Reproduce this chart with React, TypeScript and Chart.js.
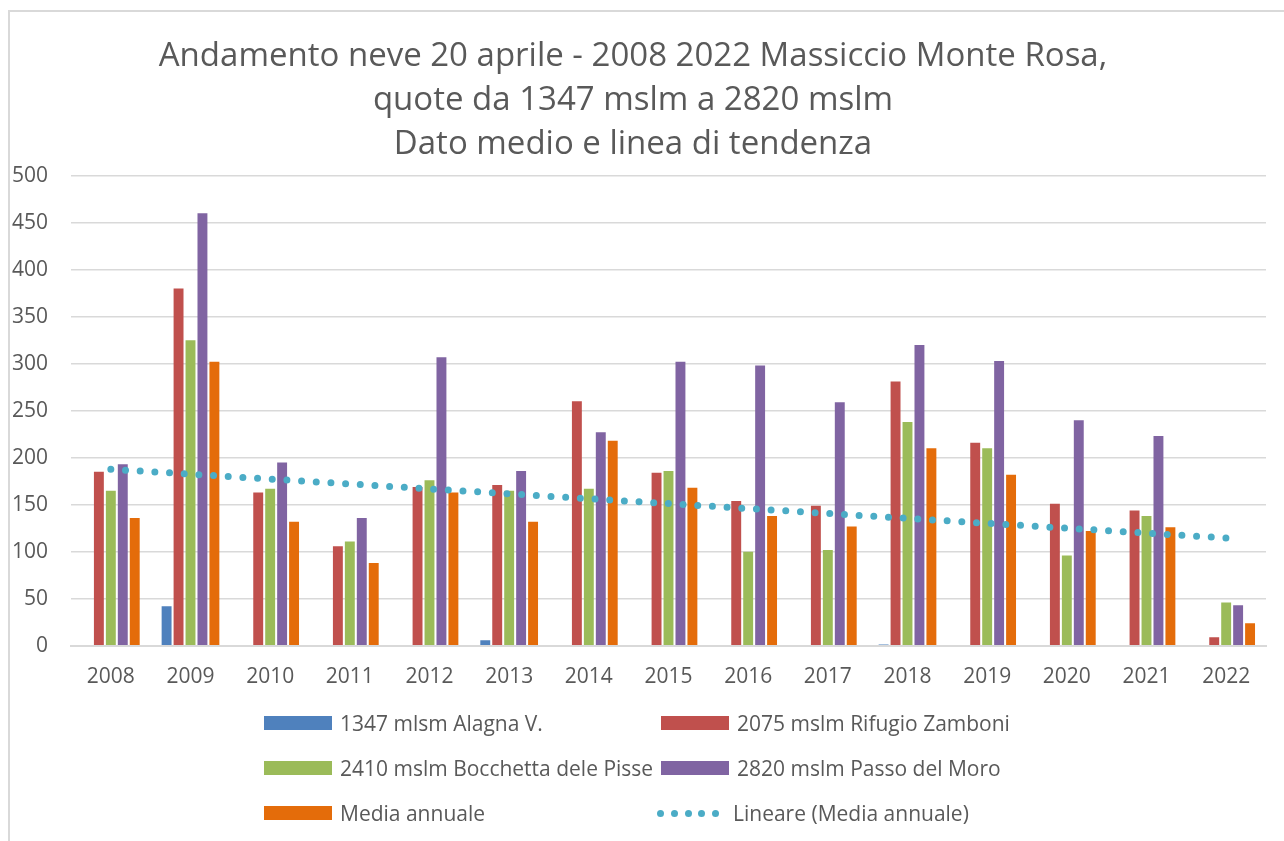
import React, { useEffect, useRef } from "react";
import { Chart, registerables } from "chart.js";

Chart.register(...registerables);

const years = ["2008","2009","2010","2011","2012","2013","2014","2015","2016","2017","2018","2019","2020","2021","2022"];
const alagna = [0, 42, 0, 0, 0, 6, 0, 0, 0, 0, 1.5, 0, 0, 0, 0];
const zamboni = [185, 380, 163, 106, 169, 171, 260, 184, 154, 149, 281, 216, 151, 144, 9];
const pisse = [165, 325, 167, 111, 176, 165, 167, 186, 100, 102, 238, 210, 96, 138, 46];
const moro = [193, 460, 195, 136, 307, 186, 227, 302, 298, 259, 320, 303, 240, 223, 43];
const media = [136, 302, 132, 88, 163, 132, 218, 168, 138, 127, 210, 182, 122, 126, 24];
const titleLines = [
  "Andamento neve 20 aprile - 2008 2022 Massiccio Monte Rosa,",
  "quote da 1347 mslm a 2820 mslm",
  "Dato medio e linea di tendenza",
];
const seriesNames = [
  "1347 mlsm Alagna V.",
  "2075 mslm Rifugio Zamboni",
  "2410 mslm Bocchetta dele Pisse",
  "2820 mslm Passo del Moro",
  "Media annuale",
  "Lineare (Media annuale)",
];
const colors = ["#4F81BD", "#C0504D", "#9BBB59", "#8064A2", "#E46C0A", "#4BACC6"];

// Excel-style linear trendline (least squares) of the "Media annuale" series
function linearTrend(values: number[]): number[] {
  const n = values.length;
  const xs = values.map((_, i) => i + 1);
  const mx = xs.reduce((a, b) => a + b, 0) / n;
  const my = values.reduce((a, b) => a + b, 0) / n;
  let sxy = 0, sxx = 0;
  for (let i = 0; i < n; i++) {
    sxy += (xs[i] - mx) * (values[i] - my);
    sxx += (xs[i] - mx) * (xs[i] - mx);
  }
  const slope = sxy / sxx;
  return xs.map((x) => my + slope * (x - mx));
}

const FONT = "'Open Sans', 'Liberation Sans', sans-serif";
const TEXT = "#595959";

export default function App() {
  const ref = useRef<HTMLCanvasElement | null>(null);

  useEffect(() => {
    if (!ref.current) return;
    const seriesData = [alagna, zamboni, pisse, moro, media];
    const barSets = seriesData.map((d, i) => ({
      type: "bar" as const,
      label: seriesNames[i],
      data: d,
      backgroundColor: colors[i],
      borderWidth: 0,
      categoryPercentage: 0.75,
      barPercentage: 0.83,
      order: 2,
    }));
    const chart = new Chart(ref.current, {
      type: "bar",
      data: {
        labels: years,
        datasets: [
          ...barSets,
          {
            type: "line" as const,
            label: seriesNames[5],
            data: linearTrend(media),
            borderColor: colors[5],
            borderWidth: 7,
            borderDash: [0, 14.7],
            borderCapStyle: "round",
            pointRadius: 0,
            fill: false,
            tension: 0,
            order: 0,
          } as any,
        ],
      },
      options: {
        responsive: false,
        animation: false,
        layout: { padding: { left: 0, right: 18, top: 0, bottom: 132 } },
        plugins: {
          legend: { display: false },
          tooltip: { enabled: false },
          title: {
            display: true,
            text: titleLines,
            color: TEXT,
            font: { family: FONT, size: 33, weight: "normal" as any, lineHeight: 1.33 },
            padding: { top: 35, bottom: 9 },
          },
        },
        scales: {
          x: {
            grid: { display: false, drawTicks: false },
            border: { display: true, color: "#D9D9D9", width: 2 },
            ticks: { color: TEXT, font: { family: FONT, size: 21 }, padding: 19, maxRotation: 0 },
          },
          y: {
            min: 0,
            max: 500,
            grid: { color: "#D9D9D9", lineWidth: 1.5, drawTicks: false },
            border: { display: false },
            ticks: { stepSize: 50, color: TEXT, font: { family: FONT, size: 21 }, padding: 23 },
            afterFit: (s: any) => { s.width = 71; },
          },
        },
      },
    });
    return () => chart.destroy();
  }, []);

  const legendRows = [[0, 1], [2, 3], [4, 5]];
  const colX = [264, 661];
  const rowY = [723, 768, 813];

  return (
    <div style={{ position: "fixed", left: 0, top: 0, width: 1284, height: 841, background: "#fff", overflow: "hidden" }}>
      <div style={{ position: "absolute", left: 8, top: 10, width: 1290, height: 900, borderTop: "2px solid #D9D9D9", borderLeft: "2px solid #D9D9D9" }} />
      <canvas ref={ref} width={1284} height={841} style={{ position: "absolute", left: 0, top: 0 }} />
      {legendRows.map((row, r) =>
        row.map((si, c) => (
          <div key={si} style={{ position: "absolute", left: colX[c], top: rowY[r] - 15, height: 30, display: "flex", alignItems: "center", fontFamily: FONT, fontSize: 21, color: TEXT, whiteSpace: "nowrap" }}>
            {si === 5 ? (
              <div style={{ width: 62, display: "flex", justifyContent: "space-between", marginLeft: -4, marginRight: 6 }}>
                {[0, 1, 2, 3, 4].map((k) => (
                  <span key={k} style={{ width: 7, height: 7, borderRadius: 4, background: colors[5], display: "inline-block" }} />
                ))}
              </div>
            ) : (
              <div style={{ width: 68, height: 14, background: colors[si] }} />
            )}
            <span style={{ marginLeft: 8 }}>{seriesNames[si]}</span>
          </div>
        ))
      )}
    </div>
  );
}
